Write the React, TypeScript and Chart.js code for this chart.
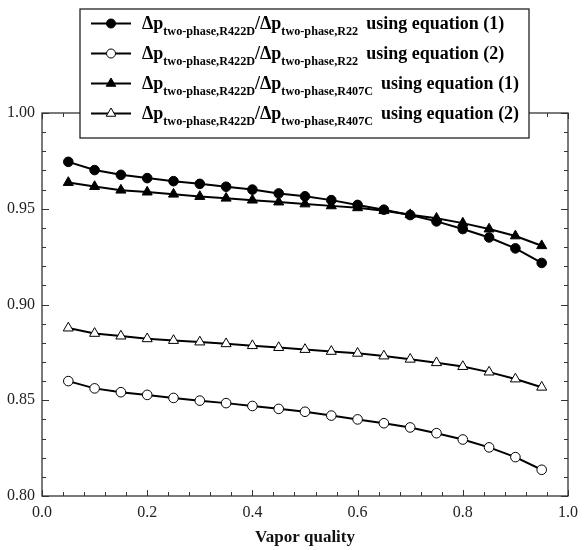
import React, { useEffect, useRef } from "react";
import { Chart, registerables } from "chart.js";

Chart.register(...registerables);

const quality = [0.05, 0.1, 0.15, 0.2, 0.25, 0.3, 0.35, 0.4, 0.45, 0.5, 0.55, 0.6, 0.65, 0.7, 0.75, 0.8, 0.85, 0.9, 0.95];
const r22Eq1 = [0.9745, 0.9702, 0.9677, 0.966, 0.9644, 0.963, 0.9615, 0.96, 0.958, 0.9565, 0.9545, 0.952, 0.9495, 0.9467, 0.9434, 0.9394, 0.935, 0.9293, 0.9217];
const r22Eq2 = [0.86, 0.8562, 0.8542, 0.8528, 0.8512, 0.8498, 0.8485, 0.847, 0.8455, 0.844, 0.842, 0.84, 0.838, 0.8358, 0.8328, 0.8295, 0.8254, 0.8203, 0.8137];
const r407cEq1 = [0.9637, 0.9616, 0.9597, 0.9587, 0.9576, 0.9564, 0.9555, 0.9545, 0.9535, 0.9525, 0.9515, 0.9505, 0.949, 0.9469, 0.945, 0.9425, 0.9394, 0.9358, 0.9307];
const r407cEq2 = [0.8877, 0.8849, 0.8835, 0.8821, 0.8812, 0.8804, 0.8795, 0.8785, 0.8775, 0.8765, 0.8755, 0.8745, 0.8731, 0.8714, 0.8696, 0.8676, 0.8647, 0.8611, 0.8568];

const legendRows = [
  { sub2: "two-phase,R22", eq: "using equation (1)", style: "circle", filled: true },
  { sub2: "two-phase,R22", eq: "using equation (2)", style: "circle", filled: false },
  { sub2: "two-phase,R407C", eq: "using equation (1)", style: "triangle", filled: true },
  { sub2: "two-phase,R407C", eq: "using equation (2)", style: "triangle", filled: false },
];
const legendSub1 = "two-phase,R422D";
const xTitle = "Vapor quality";

const SERIF = '"Liberation Serif", "Times New Roman", serif';

function drawMarker(ctx: CanvasRenderingContext2D, style: string, filled: boolean, x: number, y: number) {
  ctx.save();
  ctx.fillStyle = filled ? "#000" : "#fff";
  ctx.strokeStyle = "#000";
  ctx.lineWidth = 1;
  ctx.beginPath();
  if (style === "circle") {
    ctx.arc(x, y, 4.5, 0, Math.PI * 2);
  } else {
    const r = 5.5;
    ctx.moveTo(x, y - r);
    ctx.lineTo(x + r * 0.866, y + r * 0.5);
    ctx.lineTo(x - r * 0.866, y + r * 0.5);
    ctx.closePath();
  }
  ctx.fill();
  ctx.stroke();
  ctx.restore();
}

const framePlugin = {
  id: "frameTicks",
  afterDatasetsDraw(chart: any) {
    const { ctx, chartArea } = chart;
    const { left, right, top, bottom } = chartArea;
    const xs = chart.scales.x;
    const ys = chart.scales.y;
    ctx.save();
    ctx.strokeStyle = "#333";
    ctx.lineWidth = 1.3;
    ctx.strokeRect(left, top, right - left, bottom - top);
    ctx.lineWidth = 1;
    ctx.beginPath();
    for (let i = 0; i <= 25; i++) {
      const v = i * 0.04;
      const px = Math.round(xs.getPixelForValue(v)) + 0.5;
      const len = i % 5 === 0 ? 6 : 4;
      ctx.moveTo(px, bottom);
      ctx.lineTo(px, bottom - len);
      ctx.moveTo(px, top);
      ctx.lineTo(px, top + len);
    }
    for (let i = 0; i <= 20; i++) {
      const v = 0.8 + i * 0.01;
      const py = Math.round(ys.getPixelForValue(v)) + 0.5;
      const len = i % 5 === 0 ? 7 : 4;
      ctx.moveTo(left, py);
      ctx.lineTo(left + len, py);
      ctx.moveTo(right, py);
      ctx.lineTo(right - len, py);
    }
    ctx.stroke();
    ctx.restore();
  },
  afterDraw(chart: any) {
    const ctx: CanvasRenderingContext2D = chart.ctx;
    ctx.save();
    const bx = 80, by = 9, bw = 449, bh = 129;
    ctx.fillStyle = "#fff";
    ctx.fillRect(bx, by, bw, bh);
    ctx.strokeStyle = "#222";
    ctx.lineWidth = 1.3;
    ctx.strokeRect(bx, by, bw, bh);
    const mainFont = `bold 18px ${SERIF}`;
    const subFont = `bold 12.2px ${SERIF}`;
    legendRows.forEach((row, i) => {
      const base = 28.5 + i * 30;
      const my = base - 5;
      ctx.strokeStyle = "#000";
      ctx.lineWidth = 2;
      ctx.beginPath();
      ctx.moveTo(91, my);
      ctx.lineTo(131, my);
      ctx.stroke();
      drawMarker(ctx, row.style, row.filled, 111, my);
      ctx.fillStyle = "#000";
      ctx.textBaseline = "alphabetic";
      ctx.textAlign = "left";
      let x = 142;
      ctx.font = mainFont;
      ctx.fillText("\u0394p", x, base);
      x += ctx.measureText("\u0394p").width;
      ctx.font = subFont;
      ctx.fillText(legendSub1, x, base + 6.5);
      x += ctx.measureText(legendSub1).width;
      ctx.font = mainFont;
      ctx.fillText("/\u0394p", x, base);
      x += ctx.measureText("/\u0394p").width;
      ctx.font = subFont;
      ctx.fillText(row.sub2, x, base + 6.5);
      x += ctx.measureText(row.sub2).width + 8;
      ctx.font = mainFont;
      ctx.fillText(row.eq, x, base);
    });
    ctx.restore();
  },
};

function mkDataset(values: number[], style: string, filled: boolean, label: string) {
  return {
    label,
    data: quality.map((q, i) => ({ x: q, y: values[i] })),
    borderColor: "#000",
    borderWidth: 2,
    backgroundColor: filled ? "#000" : "#fff",
    pointBackgroundColor: filled ? "#000" : "#fff",
    pointBorderColor: "#000",
    pointBorderWidth: 1,
    pointStyle: style,
    pointRadius: style === "circle" ? 4.8 : 5.8,
    tension: 0,
  };
}

export default function App() {
  const ref = useRef<HTMLCanvasElement | null>(null);
  useEffect(() => {
    document.body.style.margin = "0";
    const canvas = ref.current;
    if (!canvas) return;
    const chart = new Chart(canvas, {
      type: "line",
      data: {
        datasets: [
          mkDataset(r22Eq1, "circle", true, "R22 eq1"),
          mkDataset(r22Eq2, "circle", false, "R22 eq2"),
          mkDataset(r407cEq1, "triangle", true, "R407C eq1"),
          mkDataset(r407cEq2, "triangle", false, "R407C eq2"),
        ],
      },
      options: {
        animation: false,
        responsive: false,
        devicePixelRatio: 1,
        layout: { padding: { top: 113, right: 10, left: 0, bottom: 0 } },
        plugins: { legend: { display: false }, tooltip: { enabled: false } },
        scales: {
          x: {
            type: "linear",
            min: 0,
            max: 1,
            grid: { display: false, drawTicks: false },
            border: { display: false },
            ticks: {
              stepSize: 0.2,
              padding: 7,
              color: "#222",
              font: { family: SERIF, size: 16 },
              callback: (v: any) => Number(v).toFixed(1),
            },
            title: {
              display: true,
              text: xTitle,
              color: "#111",
              font: { family: SERIF, size: 17, weight: "bold" },
              padding: { top: 0, bottom: 2 },
            },
            afterFit: (s: any) => {
              s.height = 54;
            },
          },
          y: {
            type: "linear",
            min: 0.8,
            max: 1.0,
            grid: { display: false, drawTicks: false },
            border: { display: false },
            ticks: {
              stepSize: 0.05,
              padding: 7,
              color: "#222",
              font: { family: SERIF, size: 16 },
              callback: (v: any) => Number(v).toFixed(2),
            },
            afterFit: (s: any) => {
              s.width = 42;
            },
          },
        },
      },
      plugins: [framePlugin],
    } as any);
    return () => chart.destroy();
  }, []);
  return (
    <div style={{ width: 585, height: 550, background: "#fff" }}>
      <canvas ref={ref} width={585} height={550} style={{ display: "block" }} />
    </div>
  );
}
